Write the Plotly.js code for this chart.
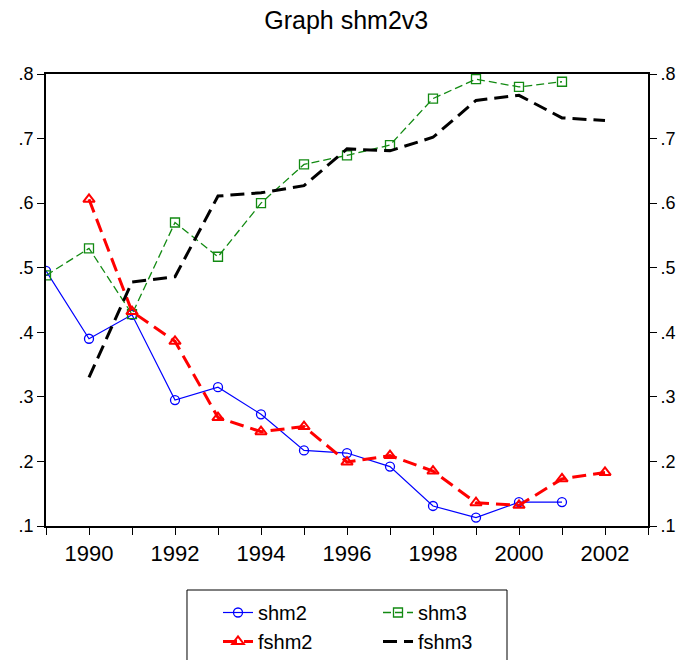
<!DOCTYPE html>
<html>
<head>
<meta charset="utf-8">
<script src="https://cdn.plot.ly/plotly-3.0.1.min.js"></script>
<style>html,body{margin:0;padding:0;background:#fff;}#chart{width:683px;height:660px;}</style>
</head>
<body>
<div id="chart"></div>
<script>
const years = [1989,1990,1991,1992,1993,1994,1995,1996,1997,1998,1999,2000,2001,2002];
const shm2  = [0.495,0.390,0.427,0.295,0.315,0.273,0.217,0.213,0.192,0.131,0.113,0.137,0.137,null];
const shm3  = [0.488,0.530,0.428,0.570,0.517,0.600,0.660,0.674,0.690,0.762,0.792,0.780,0.788,null];
const fshm2 = [null,0.606,0.432,0.386,0.268,0.246,0.254,0.199,0.209,0.185,0.136,0.132,0.173,0.183];
const fshm3 = [null,0.330,0.478,0.486,0.611,0.616,0.627,0.684,0.681,0.702,0.759,0.767,0.732,0.728];
const xTickVals = [1989,1990,1991,1992,1993,1994,1995,1996,1997,1998,1999,2000,2001,2002,2003];
const xTickText = ['','1990','','1992','','1994','','1996','','1998','','2000','','2002',''];
const yTickVals = [0.1,0.2,0.3,0.4,0.5,0.6,0.7,0.8];
const yTickText = ['.1','.2','.3','.4','.5','.6','.7','.8'];

const traces = [
  {x: years, y: shm2, name: 'shm2', mode: 'lines+markers', legend: 'legend',
   line: {color: '#0000FF', width: 1.2},
   marker: {symbol: 'circle-open', size: 9, color: '#0000FF', line: {width: 1.3}}},
  {x: years, y: shm3, name: 'shm3', mode: 'lines+markers', legend: 'legend',
   line: {color: '#128A12', width: 1.3, dash: '8px,4px'},
   marker: {symbol: 'square-open', size: 9, color: '#128A12', line: {width: 1.3}}},
  {x: years, y: fshm2, name: 'fshm2', mode: 'lines+markers', legend: 'legend2',
   line: {color: '#FF0000', width: 3, dash: '14px,7px'},
   marker: {symbol: 'triangle-up-open', size: 10, color: '#FF0000', line: {width: 2}}},
  {x: years, y: fshm3, name: 'fshm3', mode: 'lines', legend: 'legend2',
   line: {color: '#000000', width: 3, dash: '14px,7px'}},
  {x: years, y: fshm3, yaxis: 'y2', mode: 'lines', showlegend: false,
   hoverinfo: 'skip', line: {width: 0, color: 'rgba(0,0,0,0)'}}
];

const font = {family: 'Liberation Sans, Arial, sans-serif', color: '#000'};
const legendCommon = {orientation: 'h', xref: 'container', yref: 'container',
  xanchor: 'left', yanchor: 'top', borderwidth: 0, bgcolor: 'rgba(0,0,0,0)',
  entrywidth: 115, entrywidthmode: 'pixels',
  font: {size: 20, family: font.family, color: '#000'}, traceorder: 'normal'};

const layout = {
  width: 683, height: 660,
  margin: {l: 46, r: 35, t: 74, b: 134},
  paper_bgcolor: '#fff', plot_bgcolor: '#fff',
  font: font,
  title: {text: 'Graph shm2v3', font: {size: 25, family: font.family, color: '#000'},
          x: 0.507, xanchor: 'center', y: 0.97, yanchor: 'middle'},
  showlegend: true,
  legend: Object.assign({}, legendCommon, {x: 218/683, y: 1 - 593/660}),
  legend2: Object.assign({}, legendCommon, {x: 218/683, y: 1 - 622/660}),
  shapes: [{type: 'rect', xref: 'paper', yref: 'paper',
            x0: 0.2342, x1: 0.7658, y0: -0.32, y1: -0.1416,
            line: {color: '#000', width: 1}, fillcolor: 'rgba(0,0,0,0)', layer: 'above'}],
  xaxis: {range: [1989, 2003], tickmode: 'array', tickvals: xTickVals, ticktext: xTickText,
          ticks: 'outside', ticklen: 7, tickwidth: 1, tickcolor: '#000',
          showline: true, linecolor: '#000', linewidth: 2, mirror: true,
          showgrid: false, zeroline: false,
          tickfont: {size: 22, family: font.family, color: '#000'}},
  yaxis: {range: [0.1, 0.8], tickmode: 'array', tickvals: yTickVals, ticktext: yTickText,
          ticks: 'outside', ticklen: 7, tickwidth: 1, tickcolor: '#000',
          showline: true, linecolor: '#000', linewidth: 2, mirror: true,
          showgrid: false, zeroline: false,
          tickfont: {size: 18, family: font.family, color: '#000'}},
  yaxis2: {range: [0.1, 0.8], overlaying: 'y', side: 'right', tickmode: 'array',
           tickvals: yTickVals, ticktext: yTickText,
           ticks: 'outside', ticklen: 7, tickwidth: 1, tickcolor: '#000',
           showline: true, linecolor: '#000', linewidth: 2,
           showgrid: false, zeroline: false,
           tickfont: {size: 18, family: font.family, color: '#000'}}
};

Plotly.newPlot('chart', traces, layout, {displayModeBar: false, staticPlot: true});
</script>
</body>
</html>
